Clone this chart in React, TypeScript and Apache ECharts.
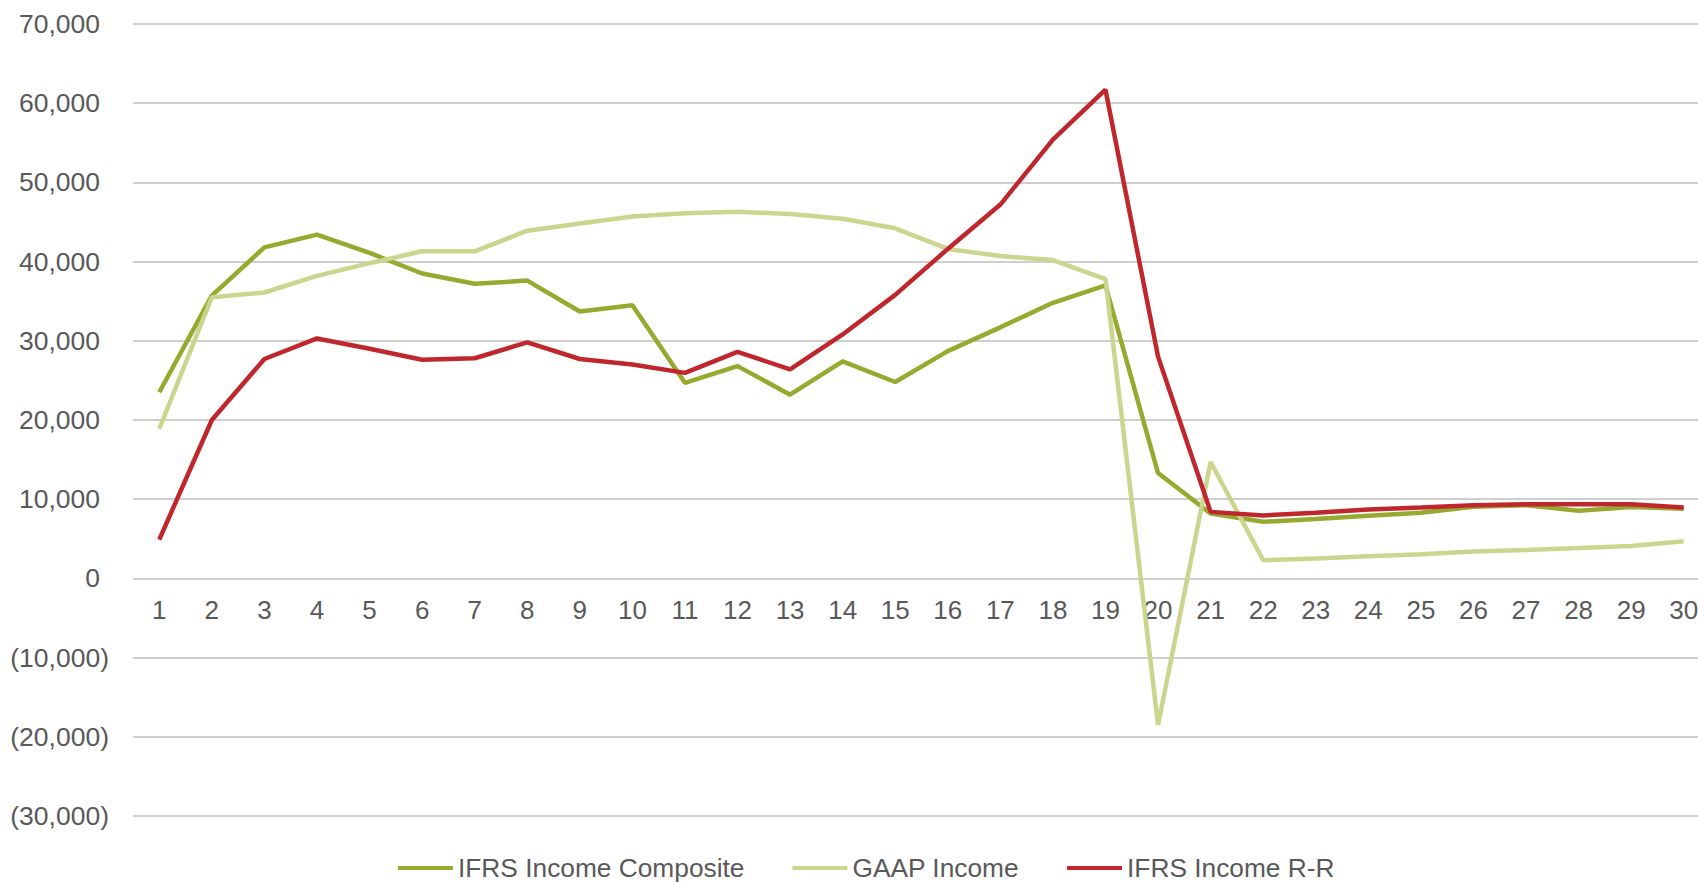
import React, { useEffect, useRef } from "react";
import * as echarts from "echarts";

const categories = Array.from({ length: 30 }, (_, i) => String(i + 1));

const ifrsComposite = [
  23500, 35700, 41800, 43400, 41100, 38500, 37200, 37600, 33700, 34500,
  24700, 26800, 23200, 27400, 24800, 28700, 31700, 34800, 37000, 13300,
  8200, 7150, 7500, 7900, 8300, 9050, 9250, 8550, 9000, 8800,
];

const gaapIncome = [
  18900, 35500, 36100, 38200, 39800, 41300, 41300, 43900, 44800, 45700,
  46100, 46300, 46000, 45400, 44200, 41600, 40700, 40200, 37800, -18500,
  14700, 2300, 2500, 2800, 3050, 3400, 3600, 3850, 4100, 4700,
];

const ifrsRR = [
  4900, 20000, 27700, 30300, 29000, 27600, 27800, 29800, 27700, 27000,
  25950, 28600, 26400, 30800, 35800, 41600, 47200, 55400, 61700, 28000,
  8400, 7950, 8300, 8700, 8950, 9250, 9350, 9350, 9350, 8950,
];

const seriesNames = ["IFRS Income Composite", "GAAP Income", "IFRS Income R-R"];
const seriesColors = ["#97A92F", "#CCD58E", "#C0272D"];

const fontFamily = "Arial, 'Liberation Sans', sans-serif";
const textColor = "#595959";

const Y_MIN = -30000;
const Y_MAX = 70000;
const GRID_TOP = 24;
const GRID_HEIGHT = 792;

function fmt(v: number): string {
  const s = Math.abs(v).toLocaleString("en-US");
  return v < 0 ? `(${s})` : s;
}

export default function App() {
  const ref = useRef<HTMLDivElement>(null);

  useEffect(() => {
    if (!ref.current) return;
    const chart = echarts.init(ref.current, null, { renderer: "svg" });
    const data = [ifrsComposite, gaapIncome, ifrsRR];
    // distance from the grid bottom up to the zero line
    const zeroOffset = (GRID_HEIGHT * (0 - Y_MIN)) / (Y_MAX - Y_MIN);
    chart.setOption({
      animation: false,
      backgroundColor: "#ffffff",
      grid: { left: 133, top: GRID_TOP, width: 1577, height: GRID_HEIGHT, containLabel: false },
      legend: {
        left: 398,
        top: 854,
        icon: "rect",
        itemWidth: 55,
        itemHeight: 4,
        itemGap: 48,
        padding: 0,
        textStyle: { color: textColor, fontSize: 26.3, lineHeight: 28, fontFamily },
        data: seriesNames,
      },
      xAxis: {
        type: "category",
        data: categories,
        boundaryGap: true,
        offset: -zeroOffset,
        axisLine: { show: false, onZero: false },
        axisTick: { show: false },
        axisLabel: { color: textColor, fontSize: 26, fontFamily, margin: 19, interval: 0 },
        splitLine: { show: false },
      },
      yAxis: {
        type: "value",
        min: Y_MIN,
        max: Y_MAX,
        interval: 10000,
        axisLine: { show: false },
        axisTick: { show: false },
        splitLine: { lineStyle: { color: "#cfcfcf", width: 2 } },
        axisLabel: {
          margin: 24,
          color: textColor,
          fontSize: 26.5,
          fontFamily,
          formatter: (v: number) => (v < 0 ? `{n|${fmt(v)}}` : `{p|${fmt(v)}}`),
          rich: {
            n: { color: textColor, fontSize: 26.5, fontFamily },
            p: { color: textColor, fontSize: 26.5, fontFamily, padding: [0, 9, 0, 0] },
          },
        },
      },
      series: seriesNames.map((name, i) => ({
        name,
        type: "line",
        data: data[i],
        showSymbol: false,
        symbol: "none",
        smooth: false,
        lineStyle: { color: seriesColors[i], width: 4.5 },
        itemStyle: { color: seriesColors[i] },
      })),
    });
    return () => chart.dispose();
  }, []);

  return (
    <div
      ref={ref}
      style={{ position: "fixed", left: 0, top: 0, width: 1712, height: 882, background: "#fff" }}
    />
  );
}
